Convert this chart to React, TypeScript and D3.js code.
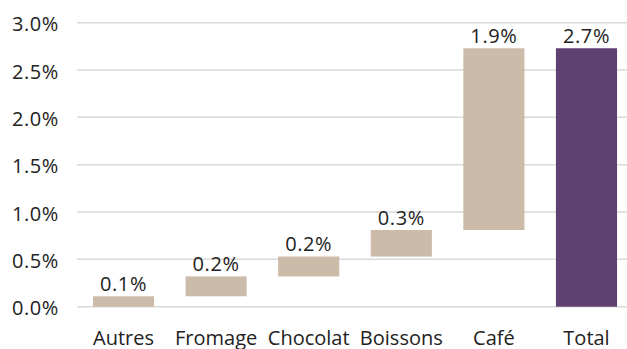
import React from "react";
import * as d3 from "d3";

// Waterfall of contributions (percentage points)
const categories = ["Autres", "Fromage", "Chocolat", "Boissons", "Café", "Total"];
const deltas = [0.11, 0.21, 0.21, 0.28, 1.92];
const totalLabel = "Total";
const yTicks = [0, 0.5, 1.0, 1.5, 2.0, 2.5, 3.0];

const W = 627;
const H = 349;
const FONT = "'Open Sans', 'Noto Sans', sans-serif";
const FS = 20;

export default function App() {
  // Build floating bars from cumulative sums
  let acc = 0;
  const bars = deltas.map((d, i) => {
    const start = acc;
    acc += d;
    return { cat: categories[i], start, end: acc, value: d, total: false };
  });
  bars.push({ cat: totalLabel, start: 0, end: acc, value: acc, total: true });

  const x = d3
    .scaleBand<string>()
    .domain(categories)
    .range([77.2, 632.8])
    .paddingInner(0.34)
    .paddingOuter(0.17);
  const y = d3.scaleLinear().domain([0, 3]).range([306.7, 22.7]);

  return (
    <svg
      width={W}
      height={H}
      style={{ position: "absolute", left: 0, top: 0, background: "#fff" }}
      fontFamily={FONT}
    >
      {yTicks.map((t) => (
        <g key={t}>
          <line x1={77} x2={W} y1={y(t)} y2={y(t)} stroke="#d9d9d9" strokeWidth={1.5} />
          <text
            x={59}
            y={y(t) + 8.5}
            textAnchor="end"
            fontSize={FS}
            letterSpacing={0.6}
            fill="#222"
          >
            {t.toFixed(1)}%
          </text>
        </g>
      ))}
      {bars.map((b) => {
        const bx = x(b.cat)!;
        const cx = bx + x.bandwidth() / 2;
        const top = y(b.end);
        const bottom = y(b.start);
        return (
          <g key={b.cat}>
            <rect
              x={bx}
              y={top}
              width={x.bandwidth()}
              height={bottom - top}
              fill={b.total ? "#603f71" : "#ccbba9"}
            />
            <text
              x={cx}
              y={top - 5.5}
              textAnchor="middle"
              fontSize={FS}
              letterSpacing={0.6}
              fill="#222"
            >
              {b.value.toFixed(1)}%
            </text>
            <text x={cx} y={344.5} textAnchor="middle" fontSize={FS} fill="#222">
              {b.cat}
            </text>
          </g>
        );
      })}
    </svg>
  );
}
